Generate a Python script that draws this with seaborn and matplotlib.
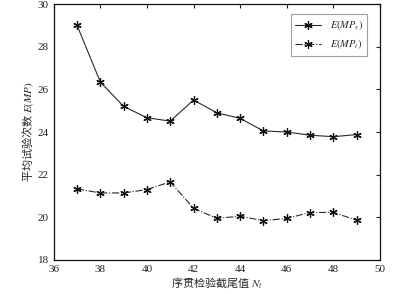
import numpy as np
import pandas as pd
import seaborn as sns
import matplotlib
matplotlib.use('Agg')
import matplotlib.pyplot as plt

# truncation values and average test counts
n_trunc = [37, 38, 39, 40, 41, 42, 43, 44, 45, 46, 47, 48, 49]
emp_s = [29.0, 26.34, 25.2, 24.67, 24.51, 25.5, 24.9, 24.64, 24.05, 24.0, 23.85, 23.78, 23.88]
emp_t = [21.33, 21.14, 21.14, 21.3, 21.66, 20.42, 19.95, 20.05, 19.84, 19.95, 20.22, 20.23, 19.86]
x_ticks = [36, 38, 40, 42, 44, 46, 48, 50]
y_ticks = [18, 20, 22, 24, 26, 28, 30]

sns.set_style('white')
plt.rcParams['font.family'] = ['Liberation Serif', 'Noto Sans CJK SC']
plt.rcParams['mathtext.fontset'] = 'stix'
plt.rcParams['axes.unicode_minus'] = False

df = pd.DataFrame({'N': n_trunc * 2,
                   'val': emp_s + emp_t,
                   'series': ['s'] * len(n_trunc) + ['t'] * len(n_trunc)})

fig = plt.figure(figsize=(4.17, 2.94), dpi=100)
ax = fig.add_axes([0.129, 0.116, 0.782, 0.870])

# asterisk marker like the original
ast = (6, 2, 0)
sns.lineplot(data=df[df.series == 's'], x='N', y='val', ax=ax, color='#2a2a2a',
             linewidth=0.8, marker=ast, markersize=6, markeredgewidth=0.9,
             markeredgecolor='#111111', label='$E(MP_s)$')
sns.lineplot(data=df[df.series == 't'], x='N', y='val', ax=ax, color='#2a2a2a',
             linewidth=0.8, linestyle='-.', marker=ast, markersize=6,
             markeredgewidth=0.9, markeredgecolor='#111111', label='$E(MP_t)$')

ax.set_xlim(36, 50)
ax.set_ylim(18, 30)
ax.set_xticks(x_ticks)
ax.set_yticks(y_ticks)
ax.tick_params(direction='in', length=3, width=0.8, labelsize=8, top=True, right=True,
               colors='#222222')
for s in ax.spines.values():
    s.set_linewidth(0.9)
    s.set_color('#111111')

ax.set_xlabel('序贯检验截尾值 $N_t$', fontsize=8, labelpad=1,
              family=['Noto Sans CJK SC', 'DejaVu Sans'])
ax.set_ylabel('平均试验次数 $E(MP)$', fontsize=8, labelpad=1,
              family=['Noto Sans CJK SC', 'DejaVu Sans'])

leg = ax.legend(loc='upper right', fontsize=7.5, frameon=True, fancybox=False,
                handlelength=2.5, borderpad=0.45, labelspacing=0.5,
                borderaxespad=0, bbox_to_anchor=(0.962, 0.962))
leg.get_frame().set_edgecolor('#888888')
leg.get_frame().set_linewidth(0.8)

fig.savefig('out.png', dpi=100)
